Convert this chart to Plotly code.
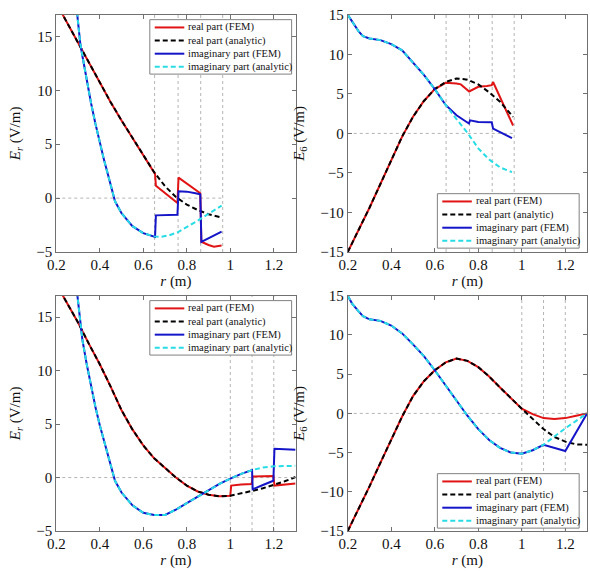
import plotly.graph_objects as go

# ---------------- data ----------------
# Case A, E_r (top-left)
rA_er_re_an = [0.2, 0.23, 0.25, 0.3, 0.35, 0.4, 0.45, 0.5, 0.55, 0.6, 0.65, 0.7, 0.75, 0.8, 0.85, 0.9, 0.96]
vA_er_re_an = [18.1, 17.0, 16.2, 14.3, 12.5, 10.7, 8.9, 7.2, 5.6, 4.0, 2.4, 1.1, 0.1, -0.6, -1.1, -1.5, -1.8]
rA_er_re_fem = [0.2, 0.23, 0.25, 0.3, 0.35, 0.4, 0.45, 0.5, 0.55, 0.6, 0.65, 0.654, 0.658, 0.7, 0.73, 0.757,
                0.762, 0.8, 0.84, 0.862, 0.867, 0.9, 0.925, 0.96]
vA_er_re_fem = [18.1, 17.0, 16.2, 14.3, 12.5, 10.7, 8.9, 7.2, 5.6, 4.0, 2.4, 2.25, 1.15, 0.45, 0.0, -0.45,
                1.9, 1.38, 0.8, 0.45, -4.05, -4.35, -4.5, -4.4]
rA_er_im_an = [0.295, 0.31, 0.32, 0.34, 0.36, 0.38, 0.4, 0.42, 0.44, 0.46, 0.47, 0.5, 0.55, 0.6, 0.65, 0.68,
               0.72, 0.76, 0.8, 0.85, 0.9, 0.96]
vA_er_im_an = [17.3, 14.4, 13.2, 10.9, 8.8, 6.9, 5.1, 3.5, 2.0, 0.5, -0.3, -1.4, -2.6, -3.25, -3.55, -3.6,
               -3.45, -3.15, -2.7, -2.1, -1.45, -0.7]
rA_er_im_fem = [0.295, 0.31, 0.32, 0.34, 0.36, 0.38, 0.4, 0.42, 0.44, 0.46, 0.47, 0.5, 0.55, 0.6, 0.65,
                0.654, 0.658, 0.7, 0.757, 0.762, 0.8, 0.84, 0.862, 0.867, 0.96]
vA_er_im_fem = [17.3, 14.4, 13.2, 10.9, 8.8, 6.9, 5.1, 3.5, 2.0, 0.5, -0.3, -1.4, -2.6, -3.25, -3.55,
                -3.6, -1.6, -1.6, -1.55, 0.63, 0.6, 0.45, 0.35, -4.05, -3.1]

# Case A, E_theta (top-right)
rA_et_re_an = [0.2, 0.25, 0.3, 0.35, 0.4, 0.45, 0.5, 0.55, 0.6, 0.65, 0.7, 0.75, 0.8, 0.85, 0.9, 0.96]
vA_et_re_an = [-15.0, -12.3, -9.4, -6.4, -3.4, -0.4, 2.1, 4.1, 5.6, 6.5, 6.95, 6.8, 6.2, 5.2, 4.0, 2.1]
rA_et_re_fem = [0.2, 0.25, 0.3, 0.35, 0.4, 0.45, 0.5, 0.55, 0.6, 0.65, 0.7, 0.72, 0.758, 0.8, 0.84, 0.862,
                0.868, 0.96]
vA_et_re_fem = [-15.0, -12.3, -9.4, -6.4, -3.4, -0.4, 2.1, 4.1, 5.6, 6.4, 6.3, 6.2, 5.3, 5.9, 6.0, 6.1,
                6.5, 1.0]
rA_et_im_an = [0.2, 0.22, 0.25, 0.27, 0.3, 0.35, 0.4, 0.45, 0.5, 0.55, 0.6, 0.65, 0.7, 0.75, 0.8, 0.85,
               0.9, 0.955]
vA_et_im_an = [15.0, 14.2, 12.9, 12.3, 12.0, 11.8, 11.3, 10.5, 8.9, 7.4, 5.6, 3.6, 1.8, 0.1, -1.9, -3.3,
               -4.3, -4.9]
rA_et_im_fem = [0.2, 0.22, 0.25, 0.27, 0.3, 0.35, 0.4, 0.45, 0.5, 0.55, 0.6, 0.65, 0.7, 0.757, 0.762,
                0.8, 0.862, 0.868, 0.955]
vA_et_im_fem = [15.0, 14.2, 12.9, 12.3, 12.0, 11.8, 11.3, 10.5, 8.9, 7.4, 5.6, 3.6, 2.3, 1.25, 1.65,
                1.45, 1.4, 0.6, -0.6]

# Case B, E_r (bottom-left)
rB_er_re_an = [0.2, 0.23, 0.3, 0.35, 0.4, 0.45, 0.5, 0.55, 0.6, 0.65, 0.7, 0.75, 0.8, 0.85, 0.9, 0.95,
               1.0, 1.05, 1.1, 1.15, 1.2, 1.25, 1.3]
vB_er_re_an = [18.1, 17.0, 14.5, 12.5, 10.6, 8.5, 6.3, 4.5, 3.0, 1.8, 0.9, 0.0, -0.75, -1.3, -1.6, -1.75,
               -1.7, -1.5, -1.25, -1.0, -0.7, -0.35, 0.05]
rB_er_re_fem = [0.2, 0.23, 0.3, 0.35, 0.4, 0.45, 0.5, 0.55, 0.6, 0.65, 0.7, 0.75, 0.8, 0.85, 0.9, 0.95,
                1.0, 1.004, 1.05, 1.098, 1.103, 1.15, 1.198, 1.203, 1.25, 1.3]
vB_er_re_fem = [18.1, 17.0, 14.5, 12.5, 10.6, 8.5, 6.3, 4.5, 3.0, 1.8, 0.9, 0.0, -0.75, -1.3, -1.6, -1.75,
                -1.7, -0.75, -0.65, -0.6, 0.1, 0.15, 0.15, -0.75, -0.65, -0.55]
rB_er_im_an = [0.295, 0.31, 0.32, 0.34, 0.36, 0.38, 0.4, 0.42, 0.44, 0.46, 0.47, 0.5, 0.55, 0.6, 0.65,
               0.7, 0.75, 0.8, 0.85, 0.9, 0.95, 1.0, 1.05, 1.1, 1.15, 1.2, 1.25, 1.3]
vB_er_im_an = [17.4, 14.3, 12.9, 10.6, 8.5, 6.6, 4.9, 3.4, 2.0, 0.5, -0.3, -1.4, -2.6, -3.3, -3.5,
               -3.5, -3.0, -2.4, -1.8, -1.2, -0.6, -0.1, 0.35, 0.7, 0.95, 1.05, 1.1, 1.1]
rB_er_im_fem = [0.295, 0.31, 0.32, 0.34, 0.36, 0.38, 0.4, 0.42, 0.44, 0.46, 0.47, 0.5, 0.55, 0.6, 0.65,
                0.7, 0.75, 0.8, 0.85, 0.9, 0.95, 1.0, 1.05, 1.1, 1.103, 1.15, 1.198, 1.203, 1.25, 1.3]
vB_er_im_fem = [17.4, 14.3, 12.9, 10.6, 8.5, 6.6, 4.9, 3.4, 2.0, 0.5, -0.3, -1.4, -2.6, -3.3, -3.5,
                -3.5, -3.0, -2.4, -1.8, -1.2, -0.6, -0.1, 0.35, 0.7, -1.1, -0.7, -0.3, 2.7, 2.65, 2.6]

# Case B, E_theta (bottom-right)
rB_et_re_an = [0.2, 0.25, 0.3, 0.35, 0.4, 0.45, 0.5, 0.55, 0.6, 0.65, 0.7, 0.75, 0.8, 0.85, 0.9, 0.95,
               1.0, 1.05, 1.1, 1.15, 1.2, 1.25, 1.3]
vB_et_re_an = [-15.0, -12.2, -9.3, -6.3, -3.3, -0.4, 2.2, 4.1, 5.5, 6.5, 7.0, 6.7, 5.9, 4.7, 3.3, 1.9,
               0.6, -0.7, -2.0, -3.0, -3.6, -3.95, -4.0]
rB_et_re_fem = [0.2, 0.25, 0.3, 0.35, 0.4, 0.45, 0.5, 0.55, 0.6, 0.65, 0.7, 0.75, 0.8, 0.85, 0.9, 0.95,
                1.0, 1.05, 1.1, 1.15, 1.2, 1.25, 1.3]
vB_et_re_fem = [-15.0, -12.2, -9.3, -6.3, -3.3, -0.4, 2.2, 4.1, 5.5, 6.5, 7.0, 6.7, 5.9, 4.7, 3.3, 1.9,
                0.6, -0.1, -0.6, -0.7, -0.6, -0.3, 0.0]
rB_et_im_an = [0.2, 0.22, 0.25, 0.27, 0.3, 0.35, 0.4, 0.45, 0.5, 0.55, 0.6, 0.65, 0.7, 0.75, 0.8, 0.85,
               0.9, 0.95, 1.0, 1.05, 1.1, 1.15, 1.2, 1.25, 1.3]
vB_et_im_an = [15.0, 14.0, 13.0, 12.4, 12.0, 11.8, 11.2, 10.2, 8.8, 7.3, 5.5, 3.6, 1.6, -0.3, -2.0, -3.4,
               -4.4, -5.0, -5.15, -4.7, -4.0, -2.9, -1.9, -0.95, 0.0]
rB_et_im_fem = [0.2, 0.22, 0.25, 0.27, 0.3, 0.35, 0.4, 0.45, 0.5, 0.55, 0.6, 0.65, 0.7, 0.75, 0.8, 0.85,
                0.9, 0.95, 1.0, 1.05, 1.1, 1.15, 1.2, 1.3]
vB_et_im_fem = [15.0, 14.0, 13.0, 12.4, 12.0, 11.8, 11.2, 10.2, 8.8, 7.3, 5.5, 3.6, 1.6, -0.3, -2.0, -3.4,
                -4.4, -5.0, -5.15, -4.7, -4.0, -4.4, -4.8, 0.0]

# element boundaries (dotted reference lines) and extent of the zero line
bounds_A = [0.652, 0.76, 0.864, 0.965]
bounds_B = [1.0, 1.1, 1.2]
zero_end_A = 0.965
zero_end_B = 1.3

x_ticks = [0.2, 0.4, 0.6, 0.8, 1.0, 1.2]
x_tick_text = ["0.2", "0.4", "0.6", "0.8", "1", "1.2"]
er_ticks = [-5, 0, 5, 10, 15]
et_ticks = [-15, -10, -5, 0, 5, 10, 15]

names = ["real part (FEM)", "real part (analytic)", "imaginary part (FEM)", "imaginary part (analytic)"]
colors = ["#e01414", "#000000", "#1414c8", "#28dce6"]
dashes = ["solid", "5px,3px", "solid", "5px,3px"]

W, H = 590, 575
FONT = "Times New Roman, Liberation Serif, Times, serif"

# legend box top-left corners (pixels) for each panel
legend_corner_px = [(143, 12), (435, 191), (143, 301), (435, 479)]

panels = [
    dict(xa="x", ya="y",
         series=[(rA_er_re_fem, vA_er_re_fem), (rA_er_re_an, vA_er_re_an),
                 (rA_er_im_fem, vA_er_im_fem), (rA_er_im_an, vA_er_im_an)],
         bounds=bounds_A, zend=zero_end_A),
    dict(xa="x2", ya="y2",
         series=[(rA_et_re_fem, vA_et_re_fem), (rA_et_re_an, vA_et_re_an),
                 (rA_et_im_fem, vA_et_im_fem), (rA_et_im_an, vA_et_im_an)],
         bounds=bounds_A, zend=zero_end_A),
    dict(xa="x3", ya="y3",
         series=[(rB_er_re_fem, vB_er_re_fem), (rB_er_re_an, vB_er_re_an),
                 (rB_er_im_fem, vB_er_im_fem), (rB_er_im_an, vB_er_im_an)],
         bounds=bounds_B, zend=zero_end_B),
    dict(xa="x4", ya="y4",
         series=[(rB_et_re_fem, vB_et_re_fem), (rB_et_re_an, vB_et_re_an),
                 (rB_et_im_fem, vB_et_im_fem), (rB_et_im_an, vB_et_im_an)],
         bounds=bounds_B, zend=zero_end_B),
]

fig = go.Figure()
refline = dict(color="#b4b4b4", width=1, dash="dot")

def px_x(v):
    return v / W

def px_y(v):
    return 1 - v / H

for i, p in enumerate(panels):
    for (xs, ys), nm, c, d in zip(p["series"], names, colors, dashes):
        fig.add_trace(go.Scatter(x=xs, y=ys, mode="lines", name=nm, showlegend=False,
                                 line=dict(color=c, width=2, dash=d),
                                 xaxis=p["xa"], yaxis=p["ya"]))
    for b in p["bounds"]:
        fig.add_shape(type="line", xref=p["xa"], yref=p["ya"] + " domain",
                      x0=b, x1=b, y0=0, y1=1, line=refline, layer="below")
    fig.add_shape(type="line", xref=p["xa"], yref=p["ya"],
                  x0=0.2, x1=p["zend"], y0=0, y1=0, line=refline, layer="below")

    # legend box (MATLAB style, compact)
    L, T = legend_corner_px[i]
    bw, bh, row = 144, 56, 13.5
    fig.add_shape(type="rect", xref="paper", yref="paper",
                  x0=px_x(L), x1=px_x(L + bw), y0=px_y(T + bh), y1=px_y(T),
                  fillcolor="white", line=dict(color="#808080", width=1), layer="above")
    for k, (nm, c, d) in enumerate(zip(names, colors, dashes)):
        yc = T + 8 + k * row
        fig.add_shape(type="line", xref="paper", yref="paper",
                      x0=px_x(L + 5), x1=px_x(L + 35), y0=px_y(yc), y1=px_y(yc),
                      line=dict(color=c, width=2, dash=d), layer="above")
        fig.add_annotation(xref="paper", yref="paper", x=px_x(L + 37), y=px_y(yc),
                           xanchor="left", yanchor="middle", showarrow=False, text=nm,
                           font=dict(family=FONT, size=10.5, color="#111"))

xl = [48 / W, 291 / W]
xr = [344 / W, 587 / W]
yt = [1 - 251 / H, 1 - 7 / H]
yb = [1 - 538 / H, 1 - 296 / H]

def xax(dom, anchor):
    return dict(domain=dom, anchor=anchor, range=[0.2, 1.3], tickvals=x_ticks, ticktext=x_tick_text,
                showline=True, linecolor="#707070", linewidth=1, mirror="ticks",
                ticks="inside", ticklen=4, tickcolor="#707070", showgrid=False, zeroline=False,
                ticklabelstandoff=-1,
                tickfont=dict(family=FONT, size=15, color="#111"),
                title=dict(text="<i>r</i> (m)", font=dict(family=FONT, size=15, color="#111"), standoff=0))

def yax(dom, anchor, rng, tv, title):
    return dict(domain=dom, anchor=anchor, range=rng, tickvals=tv,
                showline=True, linecolor="#707070", linewidth=1, mirror="ticks",
                ticks="inside", ticklen=4, tickcolor="#707070", showgrid=False, zeroline=False,
                tickfont=dict(family=FONT, size=15, color="#111"),
                title=dict(text=title, font=dict(family=FONT, size=15, color="#111"), standoff=12))

er_title = "<i>E</i><sub><i>r</i></sub> (V/m)"
et_title = "<i>E</i><sub>6</sub> (V/m)"

fig.update_layout(
    width=W, height=H, margin=dict(l=0, r=0, t=0, b=0),
    paper_bgcolor="white", plot_bgcolor="white", showlegend=False,
    xaxis=xax(xl, "y"), yaxis=yax(yt, "x", [-5, 17], er_ticks, er_title),
    xaxis2=xax(xr, "y2"), yaxis2=yax(yt, "x2", [-15, 15], et_ticks, et_title),
    xaxis3=xax(xl, "y3"), yaxis3=yax(yb, "x3", [-5, 17], er_ticks, er_title),
    xaxis4=xax(xr, "y4"), yaxis4=yax(yb, "x4", [-15, 15], et_ticks, et_title),
)

fig.write_html("out.html", config={"displayModeBar": False},
               post_script="document.body.style.margin='0';document.body.style.overflow='hidden';")
